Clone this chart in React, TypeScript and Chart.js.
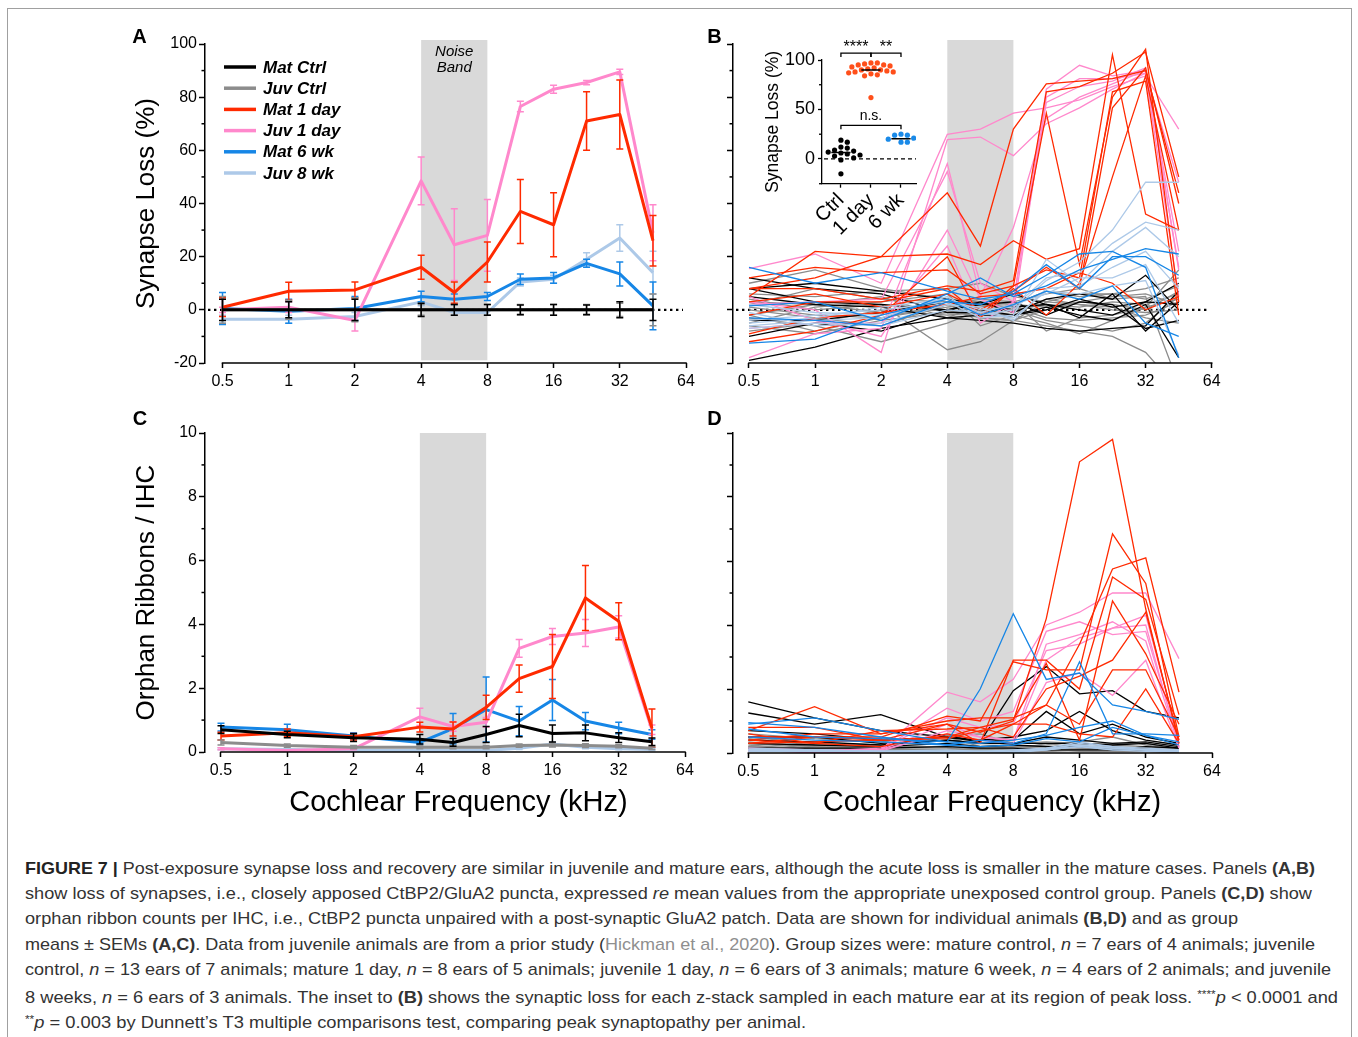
import React, { useEffect, useLayoutEffect, useRef } from 'react';
import { Chart, registerables } from 'chart.js';

Chart.register(...registerables);

const FONT = '"Liberation Sans", Arial, Helvetica, sans-serif';
Chart.defaults.font.family = FONT;
Chart.defaults.color = '#000';

// ---------------- shared axis data ----------------
const FREQS = [0.5, 1, 2, 4, 5.66, 8, 11.3, 16, 22.6, 32, 45.3];
const X_TICKS = [0.5, 1, 2, 4, 8, 16, 32, 64];
const NOISE_BAND = [4, 8];
const NOISE_LABEL = ['Noise', 'Band'];
const GROUPS = ['Mat Ctrl', 'Juv Ctrl', 'Mat 1 day', 'Juv 1 day', 'Mat 6 wk', 'Juv 8 wk'];
const COLORS = ['#000000', '#8c8c8c', '#ff2a00', '#ff88cc', '#1686e6', '#adc9e8'];

// ---------------- Panel A: synapse loss (%) means ± SEM ----------------
const LOSS_TICKS = [-20, 0, 20, 40, 60, 80, 100];
const LOSS_MINOR = [-10, 10, 30, 50, 70, 90];
const A_MAT_CTRL = [0, 0, 0, 0, 0, 0, 0, 0, 0, 0, 0];
const A_MAT_CTRL_SEM = [4, 3, 4, 2.5, 2, 2, 1.8, 2, 1.8, 3, 4];
const A_JUV_CTRL = [0, 0, 0, 0, 0, 0, 0, 0, 0, 0, 0];
const A_JUV_CTRL_SEM = [5, 3.5, 4.5, 2, 2, 2, 2, 2, 2, 2.5, 6];
const A_MAT_1D = [1, 7, 7.5, 16, 6.5, 18, 37, 32, 71, 73.5, 26];
const A_MAT_1D_SEM = [3.5, 3.4, 3, 4.5, 4, 7.5, 12, 12, 11, 13, 9.5];
const A_JUV_1D = [0, 1, -4, 48.5, 24.5, 28, 76.5, 83, 85.5, 89.5, 29];
const A_JUV_1D_SEM = [1, 2, 4, 9, 13.5, 13.5, 2, 1.5, 0.8, 1, 10.5];
const A_MAT_6W = [0.5, -0.5, 0.5, 5, 4, 5, 11.5, 12, 17.5, 13.5, 1.5];
const A_MAT_6W_SEM = [6, 4.5, 4.5, 2, 2, 1.5, 2, 2, 1.5, 4.5, 9];
const A_JUV_8W = [-3.5, -3.5, -2.5, 3, -1, -1, 10.5, 11.5, 19, 27, 14];
const A_JUV_8W_SEM = [1.5, 1.5, 1.5, 1.5, 1, 1, 1.5, 1.5, 2.5, 5, 8];

// ---------------- Panel B: synapse loss (%) per ear ----------------
const B_MAT_CTRL = [
  [12, 8, 6, -1, -1, 1, 2, -3, 6, -8, 3],
  [8, 10, 7, 4, 2, 3, -2, 3, 2, -7, -4],
  [5, 2, 1, -3, -4, -5, -7, -8, -7, -6, 7],
  [8, 3, 2, 0, 3, -1, 4, 6, 4, 13, 0],
  [-4, -4, -1, 3, 0, -2, 0, 4, 1, 3, 2],
  [-10, -5, -8, 0, 2, 6, 2, 0, -2, 3, 10],
  [-19, -14, -7, -3, -2, -2, 1, -2, -4, 2, -18],
];
const B_JUV_CTRL = [
  [10, 15, 8, 4, 3, 2, 7, 5, 6, 8, 12],
  [6, 5, 7, 8, 10, 5, 3, 6, 6, 4, 9],
  [4, 0, 2, -15, -12, -4, -6, -8, -10, -16, -30],
  [2, 8, 4, 3, 2, 0, 2, 1, 3, 2, 6],
  [0, -3, -6, 2, 4, 3, -8, -3, -2, 1, 4],
  [-2, 2, -1, 0, -3, -4, 0, 3, 5, 6, 2],
  [-3, -6, -12, -5, 0, -2, -5, -9, -4, 1, 15],
  [-5, 1, 3, 6, -6, -2, 4, 2, 1, -3, -5],
  [-6, -9, -4, -1, 1, 3, 6, 8, 4, 5, -28],
  [1, -2, -3, 1, 3, 0, -4, -6, -8, -5, 5],
  [-8, -5, 0, -2, -1, 2, 1, 3, 2, 0, 7],
  [3, 2, 5, -3, 2, 1, -3, -4, -3, -2, 3],
  [-2, -8, -3, 2, -3, -4, 3, 2, 0, -1, 0],
];
const B_MAT_1D = [
  [5, 22, 20, 21, 17, 26, 19, 23, 96, 36, 30],
  [8, 12, 20, 44, 24, 68, 85, 86, 87, 90, 44],
  [12, 16, 14, 15, 6, 9, 74, 17, 80, 98, 3],
  [8, 8, 4, 9, 7, 11, 82, 84, 89, 97, 50],
  [3, 6, 1, 6, 0, 7, 16, 8, 76, 91, 40],
  [-2, 3, 3, 8, -2, 9, 15, 12, 82, 86, -2],
  [-9, -3, -1, 2, 5, 6, 8, 14, 10, 0, 5],
  [-12, -8, -2, 20, -3, 8, -2, 10, 50, 88, 30],
];
const B_JUV_1D = [
  [15.5, 21, 10, 66, 68, 74, 76, 79, 84, 88, 68],
  [3, 0, -16, 64, 65, 58, 70, 76, 83, 89, 48],
  [-18, -9, -7, 55, 5, 31, 72, 80, 85, 90, 22],
  [2, 3, 4, 52, 10, 3, 78, 84, 86, 91, 15],
  [5, -4, -10, 30, 4, -1, 80, 87, 87, 89, 5],
  [-7, -5, -5, 24, -5, 3, 83, 92, 88, 90, 16],
];
const B_MAT_6W = [
  [16, 10, 14, 7, 4, 6, 13, 21, 22, 16, -18],
  [1.5, 3, -4, 6, 12, 5, 9, 15, 19, 23, 21],
  [-3, -4, -6, 3, 2, 7, 17, 8, 20, 20, 13],
  [-12.5, -11, -2, 4, -2, 2, 7, 4, 9, -5, -10],
];
const B_JUV_8W = [
  [-6, -4, -3, 5, -2, 0, 11, 18, 30, 48, 48],
  [2, -1, -2, 4, 0, 1, 12, 14, 25, 33, 30],
  [-4, -2, 0, 3, -3, -2, 19, 10, 22, 31, 20],
  [-1, -6, -5, 2, 1, -4, 8, 9, 16, 22, 8],
  [-5, -3, 1, 4, -1, 2, 6, 12, 12, 17, -5],
  [-7, -5, -6, 0, -1, -3, 7, 6, 9, 11, -17],
];

// ---------------- Inset: peak synapse loss per z-stack ----------------
const INSET_CATS = ['Ctrl', '1 day', '6 wk'];
const INSET_CTRL = [19, 17, 12, 11, 9, 8, 7, 6, 5, 4, 3, 1, -1, -15];
const INSET_1DAY = [97, 97, 96, 95, 95, 94, 93, 92, 91, 90, 90, 89, 88, 88, 87, 86, 85, 84, 62];
const INSET_6WK = [25, 24, 24, 21, 20, 20, 17, 17];
const INSET_COLORS = ['#000000', '#ff4f1a', '#1a8ae8'];
const INSET_Y_TICKS = [0, 50, 100];
const INSET_Y_MINOR = [-25, 25, 75];
const INSET_BRACKETS = [
  { from: 0, to: 1, y: 107, text: '****' },
  { from: 1, to: 2, y: 107, text: '**' },
  { from: 0, to: 2, y: 34, text: 'n.s.' },
];

// ---------------- Panel C: orphan ribbons / IHC means ± SEM ----------------
const ORPH_TICKS = [0, 2, 4, 6, 8, 10];
const ORPH_MINOR = [1, 3, 5, 7, 9];
const C_MAT_CTRL = [0.7, 0.55, 0.45, 0.4, 0.3, 0.55, 0.83, 0.58, 0.6, 0.45, 0.32];
const C_MAT_CTRL_SEM = [0.12, 0.1, 0.12, 0.15, 0.12, 0.25, 0.35, 0.27, 0.25, 0.15, 0.12];
const C_JUV_CTRL = [0.3, 0.2, 0.15, 0.15, 0.15, 0.15, 0.2, 0.22, 0.2, 0.18, 0.12];
const C_JUV_CTRL_SEM = [0.08, 0.05, 0.05, 0.05, 0.05, 0.05, 0.05, 0.06, 0.06, 0.05, 0.04];
const C_MAT_1D = [0.5, 0.6, 0.48, 0.78, 0.72, 1.4, 2.3, 2.68, 4.83, 4.1, 0.75];
const C_MAT_1D_SEM = [0.12, 0.12, 0.1, 0.15, 0.22, 0.38, 0.43, 1.0, 1.02, 0.58, 0.6];
const C_JUV_1D = [0.1, 0.05, 0.1, 1.1, 0.8, 0.93, 3.25, 3.62, 3.73, 3.92, 0.7];
const C_JUV_1D_SEM = [0.03, 0.02, 0.03, 0.27, 0.15, 0.15, 0.28, 0.25, 0.42, 0.35, 0.15];
const C_MAT_6W = [0.78, 0.7, 0.5, 0.3, 0.73, 1.33, 0.97, 1.63, 0.97, 0.75, 0.55];
const C_MAT_6W_SEM = [0.12, 0.17, 0.1, 0.05, 0.48, 1.02, 0.46, 0.64, 0.27, 0.18, 0.15];
const C_JUV_8W = [0.1, 0.08, 0.05, 0.05, 0.05, 0.05, 0.12, 0.25, 0.15, 0.1, 0.08];
const C_JUV_8W_SEM = [0.03, 0.03, 0.02, 0.02, 0.02, 0.02, 0.04, 0.06, 0.05, 0.03, 0.03];

// ---------------- Panel D: orphan ribbons / IHC per ear ----------------
const D_MAT_CTRL = [
  [1.6, 1.1, 0.7, 0.5, 0.35, 1.95, 2.7, 1.85, 1.95, 1.3, 1.1],
  [1.25, 0.9, 1.2, 0.5, 0.4, 0.4, 1.3, 0.6, 0.9, 0.5, 0.3],
  [0.7, 0.6, 0.4, 0.5, 0.4, 0.5, 0.7, 1.3, 0.7, 0.4, 0.25],
  [0.5, 0.5, 0.3, 0.4, 0.3, 0.3, 0.5, 0.4, 0.3, 0.35, 0.2],
  [0.4, 0.35, 0.25, 0.4, 0.3, 0.3, 0.3, 0.3, 0.25, 0.3, 0.15],
  [0.3, 0.25, 0.2, 0.3, 0.2, 0.25, 0.2, 0.2, 0.1, 0.2, 0.15],
  [0.15, 0.15, 0.15, 0.2, 0.15, 0.15, 0.1, 0.1, 0.1, 0.1, 0.1],
];
const D_JUV_CTRL = [
  [0.6, 0.45, 0.35, 0.55, 0.6, 0.3, 0.35, 0.3, 0.25, 0.2, 0.15],
  [0.5, 0.3, 0.25, 0.5, 0.2, 0.2, 0.25, 0.35, 0.5, 0.25, 0.1],
  [0.45, 0.25, 0.2, 0.2, 0.15, 0.15, 0.2, 0.25, 0.3, 0.3, 0.1],
  [0.35, 0.2, 0.15, 0.15, 0.1, 0.2, 0.2, 0.2, 0.15, 0.2, 0.15],
  [0.3, 0.15, 0.1, 0.1, 0.15, 0.1, 0.15, 0.3, 0.2, 0.15, 0.1],
  [0.3, 0.2, 0.1, 0.1, 0.1, 0.15, 0.1, 0.2, 0.1, 0.1, 0.05],
  [0.25, 0.1, 0.1, 0.1, 0.05, 0.1, 0.15, 0.15, 0.2, 0.1, 0.1],
  [0.2, 0.15, 0.05, 0.05, 0.1, 0.05, 0.1, 0.1, 0.1, 0.15, 0.05],
  [0.2, 0.1, 0.1, 0.1, 0.05, 0.1, 0.3, 0.15, 0.1, 0.1, 0.1],
  [0.15, 0.1, 0.05, 0.05, 0.1, 0.05, 0.05, 0.1, 0.05, 0.1, 0.05],
  [0.1, 0.05, 0.1, 0.05, 0.05, 0.1, 0.1, 0.2, 0.1, 0.05, 0.05],
  [0.1, 0.05, 0.05, 0.1, 0.05, 0.05, 0.05, 0.1, 0.15, 0.1, 0.05],
  [0.05, 0.05, 0.05, 0.05, 0.05, 0.05, 0.1, 0.05, 0.05, 0.05, 0.0],
];
const D_MAT_1D = [
  [0.7, 1.45, 0.6, 0.9, 0.65, 1.0, 4.2, 9.1, 9.8, 4.5, 0.3],
  [0.5, 0.5, 0.5, 1.15, 1.0, 2.85, 2.6, 2.6, 6.85, 5.3, 0.5],
  [0.4, 0.6, 0.6, 1.0, 1.1, 1.1, 1.5, 3.4, 5.75, 6.1, 1.9],
  [0.8, 0.8, 0.4, 0.9, 0.3, 2.9, 2.9, 2.0, 5.5, 4.8, 1.2],
  [0.6, 0.3, 0.7, 0.75, 0.8, 1.05, 2.8, 0.4, 4.75, 3.1, 0.9],
  [0.3, 0.5, 0.4, 0.5, 0.8, 0.5, 2.0, 2.4, 2.9, 4.4, 0.4],
  [0.4, 0.3, 0.2, 0.6, 0.4, 0.9, 1.5, 0.9, 2.6, 2.6, 0.5],
  [0.3, 0.35, 0.4, 0.45, 0.7, 0.9, 0.9, 0.6, 0.5, 2.0, 0.3],
];
const D_JUV_1D = [
  [0.1, 0.05, 0.1, 1.9, 1.6, 2.3, 4.0, 4.4, 5.0, 5.0, 2.95],
  [0.15, 0.1, 0.1, 1.4, 1.0, 1.3, 3.8, 4.1, 3.7, 3.8, 0.3],
  [0.05, 0.05, 0.15, 1.1, 0.8, 0.9, 3.2, 3.4, 3.9, 4.3, 0.4],
  [0.1, 0.05, 0.1, 0.9, 0.5, 0.4, 3.4, 3.7, 4.1, 3.5, 0.2],
  [0.1, 0.0, 0.05, 0.7, 0.5, 0.4, 2.9, 3.6, 3.9, 4.0, 0.2],
  [0.1, 0.05, 0.1, 0.6, 0.4, 0.3, 2.2, 2.5, 1.8, 2.9, 0.15],
];
const D_MAT_6W = [
  [0.9, 1.1, 0.7, 0.35, 2.0, 4.35, 2.3, 2.5, 1.5, 1.3, 1.05],
  [0.95, 0.8, 0.5, 0.25, 0.4, 0.3, 0.6, 2.85, 0.6, 0.6, 0.55],
  [0.75, 0.5, 0.45, 0.35, 0.3, 0.4, 0.55, 0.8, 1.0, 0.55, 0.35],
  [0.5, 0.4, 0.35, 0.25, 0.2, 0.25, 0.45, 0.35, 0.8, 0.55, 0.25],
];
const D_JUV_8W = [
  [0.15, 0.1, 0.05, 0.05, 0.05, 0.05, 0.15, 0.35, 0.2, 0.15, 0.1],
  [0.1, 0.1, 0.05, 0.1, 0.05, 0.05, 0.1, 0.3, 0.2, 0.1, 0.1],
  [0.1, 0.05, 0.05, 0.05, 0.05, 0.1, 0.15, 0.25, 0.15, 0.1, 0.1],
  [0.1, 0.1, 0.05, 0.05, 0.05, 0.05, 0.1, 0.2, 0.1, 0.1, 0.05],
  [0.05, 0.05, 0.05, 0.0, 0.05, 0.0, 0.1, 0.2, 0.1, 0.05, 0.05],
  [0.1, 0.08, 0.05, 0.05, 0.05, 0.05, 0.12, 0.2, 0.15, 0.1, 0.08],
];

// ---------------- helpers ----------------
const pts = (vals: number[]) => vals.map((v, i) => ({ x: FREQS[i], y: v }));

function meanDatasets(means: number[][], sems: number[][]) {
  return GROUPS.map((label, g) => ({
    label,
    data: pts(means[g]),
    sem: sems[g],
    borderColor: COLORS[g],
    backgroundColor: COLORS[g],
    borderWidth: 3,
    pointRadius: 0,
    borderJoinStyle: 'round',
  }));
}

// draw order, bottom -> top: gray, black, pink, red, light blue, blue
const INDIV_ORDER = [5, 6, 3, 4, 1, 2];
function indivDatasets(groups: number[][][]) {
  const out: any[] = [];
  groups.forEach((lines, g) =>
    lines.forEach((vals) =>
      out.push({
        label: GROUPS[g],
        data: pts(vals),
        borderColor: COLORS[g],
        backgroundColor: COLORS[g],
        borderWidth: 1.3,
        pointRadius: 0,
        order: INDIV_ORDER[g],
      })
    )
  );
  return out;
}

const decorPlugin: any = {
  id: 'decor',
  beforeDatasetsDraw(chart: any, _a: any, o: any) {
    const { ctx, chartArea: ca } = chart;
    const x = chart.scales.x;
    const y = chart.scales.y;
    ctx.save();
    if (o.band) {
      const x0 = x.getPixelForValue(o.band[0]);
      const x1 = x.getPixelForValue(o.band[1]);
      const yT = y.getPixelForValue(o.bandY[1]);
      const yB = y.getPixelForValue(o.bandY[0]);
      ctx.fillStyle = '#d9d9d9';
      ctx.fillRect(x0, yT, x1 - x0, yB - yT);
      if (o.bandText) {
        ctx.fillStyle = '#000';
        ctx.font = `italic 15px ${FONT}`;
        ctx.textAlign = 'center';
        ctx.textBaseline = 'middle';
        o.bandText.forEach((t: string, i: number) => ctx.fillText(t, (x0 + x1) / 2, ca.top + 8 + i * 16));
      }
    }
    if (o.zero) {
      const yy = y.getPixelForValue(0);
      ctx.strokeStyle = '#000';
      ctx.lineWidth = 2.4;
      ctx.setLineDash([2.4, 3.6]);
      ctx.beginPath();
      ctx.moveTo(ca.left + 3, yy);
      ctx.lineTo(ca.right - 3, yy);
      ctx.stroke();
    }
    ctx.restore();
  },
  afterDatasetDraw(chart: any, args: any) {
    const ds = chart.data.datasets[args.index];
    if (!ds.sem) return;
    const { ctx } = chart;
    const x = chart.scales.x;
    const y = chart.scales.y;
    ctx.save();
    ctx.strokeStyle = ds.borderColor;
    ctx.lineWidth = 1.5;
    ds.data.forEach((p: any, i: number) => {
      const px = x.getPixelForValue(p.x);
      const yT = y.getPixelForValue(p.y + ds.sem[i]);
      const yB = y.getPixelForValue(p.y - ds.sem[i]);
      ctx.beginPath();
      ctx.moveTo(px, yT);
      ctx.lineTo(px, yB);
      ctx.moveTo(px - 3.5, yT);
      ctx.lineTo(px + 3.5, yT);
      ctx.moveTo(px - 3.5, yB);
      ctx.lineTo(px + 3.5, yB);
      ctx.stroke();
    });
    ctx.restore();
  },
  afterDraw(chart: any, _a: any, o: any) {
    const { ctx, chartArea: ca } = chart;
    const x = chart.scales.x;
    const y = chart.scales.y;
    ctx.save();
    ctx.strokeStyle = '#000';
    ctx.lineWidth = 1.5;
    if (o.xLine) {
      ctx.beginPath();
      ctx.moveTo(x.getPixelForValue(o.xLine[0]) - 0.75, ca.bottom);
      ctx.lineTo(x.getPixelForValue(o.xLine[1]) + 0.75, ca.bottom);
      ctx.stroke();
    }
    if (o.yMinor) {
      o.yMinor.forEach((v: number) => {
        const yy = y.getPixelForValue(v);
        ctx.beginPath();
        ctx.moveTo(ca.left, yy);
        ctx.lineTo(ca.left - 3.5, yy);
        ctx.stroke();
      });
    }
    if (o.legend) {
      ctx.font = `italic bold 17px ${FONT}`;
      ctx.textBaseline = 'middle';
      ctx.textAlign = 'left';
      chart.data.datasets.forEach((ds: any, i: number) => {
        const yy = ca.top + 23 + i * 21.2;
        ctx.strokeStyle = ds.borderColor;
        ctx.lineWidth = 3.5;
        ctx.beginPath();
        ctx.moveTo(ca.left + 19, yy);
        ctx.lineTo(ca.left + 51, yy);
        ctx.stroke();
        ctx.fillStyle = '#000';
        ctx.fillText(ds.label, ca.left + 58, yy + 1);
      });
    }
    ctx.restore();
  },
};

function lineConfig(p: any) {
  return {
    type: 'line',
    data: { datasets: p.datasets },
    plugins: [decorPlugin],
    options: {
      responsive: false,
      animation: false,
      devicePixelRatio: 1,
      parsing: true,
      layout: { padding: p.pad },
      plugins: {
        legend: { display: false },
        tooltip: { enabled: false },
        decor: p.decor,
      },
      scales: {
        x: {
          type: 'logarithmic',
          position: 'bottom',
          min: p.xMin,
          max: 64,
          afterFit: (s: any) => {
            s.height = p.xHeight;
          },
          afterBuildTicks: (s: any) => {
            s.ticks = X_TICKS.map((v) => ({ value: v }));
          },
          grid: { drawOnChartArea: false, drawTicks: true, tickLength: 5, tickWidth: 1.5, tickColor: '#000' },
          border: { display: false },
          ticks: {
            color: '#000',
            font: { family: FONT, size: 16 },
            padding: 4,
            autoSkip: false,
            maxRotation: 0,
            minRotation: 0,
            callback: (v: any) => String(v),
          },
        },
        y: {
          type: 'linear',
          position: 'left',
          min: p.yMin,
          max: p.yMax,
          afterFit: (s: any) => {
            s.width = p.yWidth;
          },
          afterBuildTicks: (s: any) => {
            s.ticks = p.yTicks.map((v: number) => ({ value: v }));
          },
          grid: { drawOnChartArea: false, drawTicks: true, tickLength: 6, tickWidth: 1.5, tickColor: '#000' },
          border: { display: true, color: '#000', width: 1.5 },
          ticks: { display: p.yLabels, color: '#000', font: { family: FONT, size: 16 }, padding: 2 },
          title: p.yTitle
            ? { display: true, text: p.yTitle, color: '#000', font: { family: FONT, size: 26 }, padding: 0 }
            : { display: false },
        },
      },
    },
  };
}

function median(a: number[]) {
  const s = [...a].sort((p, q) => p - q);
  const m = Math.floor(s.length / 2);
  return s.length % 2 ? s[m] : (s[m - 1] + s[m]) / 2;
}

function swarmOffsets(values: number[], pxPerY: number, pxPerX: number, diam: number) {
  const idx = values.map((_, i) => i).sort((a, b) => values[b] - values[a]);
  const placed: { x: number; y: number }[] = [];
  const offs = new Array(values.length).fill(0);
  for (const i of idx) {
    const yy = values[i] * pxPerY;
    let chosen = 0;
    for (let k = 0; k < 30; k++) {
      const cand = k === 0 ? 0 : (k % 2 ? 1 : -1) * Math.ceil(k / 2) * diam * 0.6;
      if (placed.every((q) => Math.hypot(q.x - cand, q.y - yy) >= diam)) {
        chosen = cand;
        break;
      }
    }
    placed.push({ x: chosen, y: yy });
    offs[i] = chosen / pxPerX;
  }
  return offs;
}

const insetPlugin: any = {
  id: 'insetDecor',
  beforeDatasetsDraw(chart: any) {
    const { ctx, chartArea: ca } = chart;
    const yy = chart.scales.y.getPixelForValue(0);
    ctx.save();
    ctx.strokeStyle = '#000';
    ctx.lineWidth = 1.2;
    ctx.setLineDash([4, 3]);
    ctx.beginPath();
    ctx.moveTo(ca.left + 2, yy);
    ctx.lineTo(ca.right, yy);
    ctx.stroke();
    ctx.restore();
  },
  afterDraw(chart: any) {
    const { ctx, chartArea: ca } = chart;
    const x = chart.scales.x;
    const y = chart.scales.y;
    ctx.save();
    ctx.strokeStyle = '#000';
    ctx.lineWidth = 1.3;
    INSET_Y_MINOR.forEach((v) => {
      const yy = y.getPixelForValue(v);
      ctx.beginPath();
      ctx.moveTo(ca.left, yy);
      ctx.lineTo(ca.left - 3, yy);
      ctx.stroke();
    });
    ctx.fillStyle = '#000';
    ctx.textAlign = 'center';
    ctx.textBaseline = 'middle';
    INSET_BRACKETS.forEach((b) => {
      const x0 = x.getPixelForValue(b.from);
      const x1 = x.getPixelForValue(b.to);
      const yb = y.getPixelForValue(b.y);
      const yd = y.getPixelForValue(b.y - 4);
      ctx.beginPath();
      ctx.moveTo(x0, yd);
      ctx.lineTo(x0, yb);
      ctx.lineTo(x1, yb);
      ctx.lineTo(x1, yd);
      ctx.stroke();
      const isStars = b.text.startsWith('*');
      ctx.font = isStars ? `16px ${FONT}` : `14px ${FONT}`;
      ctx.fillText(b.text, (x0 + x1) / 2, yb - (isStars ? 5 : 9));
    });
    ctx.restore();
  },
};

function insetConfig() {
  const groups = [INSET_CTRL, INSET_1DAY, INSET_6WK];
  const datasets: any[] = [];
  groups.forEach((vals, g) => {
    const med = median(vals);
    datasets.push({
      data: [
        { x: g - 0.32, y: med },
        { x: g + 0.32, y: med },
      ],
      showLine: true,
      borderColor: '#000',
      borderWidth: 1.5,
      pointRadius: 0,
      order: 0,
    });
  });
  groups.forEach((vals, g) => {
    const offs = swarmOffsets(vals, 0.99, 30, 5.3);
    datasets.push({
      label: INSET_CATS[g],
      data: vals.map((v, i) => ({ x: g + offs[i], y: v })),
      backgroundColor: INSET_COLORS[g],
      borderWidth: 0,
      pointRadius: 2.6,
      order: 1,
    });
  });
  return {
    type: 'scatter',
    data: { datasets },
    plugins: [insetPlugin],
    options: {
      responsive: false,
      animation: false,
      devicePixelRatio: 1,
      layout: { padding: { left: 12.5, top: 30, right: 24, bottom: 0 } },
      plugins: { legend: { display: false }, tooltip: { enabled: false } },
      scales: {
        x: {
          type: 'linear',
          min: -0.63,
          max: 2.5,
          afterFit: (s: any) => {
            s.height = 61.3;
          },
          afterBuildTicks: (s: any) => {
            s.ticks = INSET_CATS.map((_, i) => ({ value: i }));
          },
          grid: { drawOnChartArea: false, tickLength: 4, tickWidth: 1.3, tickColor: '#000' },
          border: { display: true, color: '#000', width: 1.3 },
          ticks: {
            color: '#000',
            font: { family: FONT, size: 20 },
            padding: 1,
            autoSkip: false,
            minRotation: 45,
            maxRotation: 45,
            callback: (v: any) => INSET_CATS[Math.round(v)] ?? '',
          },
        },
        y: {
          type: 'linear',
          min: -25,
          max: 100,
          afterFit: (s: any) => {
            s.width = 59.5;
          },
          afterBuildTicks: (s: any) => {
            s.ticks = INSET_Y_TICKS.map((v) => ({ value: v }));
          },
          grid: { drawOnChartArea: false, tickLength: 4, tickWidth: 1.3, tickColor: '#000' },
          border: { display: true, color: '#000', width: 1.3 },
          ticks: { color: '#000', font: { family: FONT, size: 18 }, padding: 3 },
          title: { display: true, text: 'Synapse Loss (%)', color: '#000', font: { family: FONT, size: 17.5 }, padding: 0 },
        },
      },
    },
  };
}

// ---------------- chart configs ----------------
const configA = () =>
  lineConfig({
    datasets: meanDatasets(
      [A_MAT_CTRL, A_JUV_CTRL, A_MAT_1D, A_JUV_1D, A_MAT_6W, A_JUV_8W],
      [A_MAT_CTRL_SEM, A_JUV_CTRL_SEM, A_MAT_1D_SEM, A_JUV_1D_SEM, A_MAT_6W_SEM, A_JUV_8W_SEM]
    ),
    xMin: 0.4163,
    yMin: -20,
    yMax: 100,
    yTicks: LOSS_TICKS,
    yWidth: 73.6,
    xHeight: 37,
    pad: { left: 31.4, top: 24, right: 24, bottom: 0 },
    yTitle: 'Synapse Loss (%)',
    yLabels: true,
    decor: { band: NOISE_BAND, bandY: [-19, 101.5], bandText: NOISE_LABEL, zero: true, xLine: [0.5, 64], yMinor: LOSS_MINOR, legend: true },
  });

const configB = () =>
  lineConfig({
    datasets: indivDatasets([B_MAT_CTRL, B_JUV_CTRL, B_MAT_1D, B_JUV_1D, B_MAT_6W, B_JUV_8W]),
    xMin: 0.4228,
    yMin: -20,
    yMax: 100,
    yTicks: LOSS_TICKS,
    yWidth: 20,
    xHeight: 37,
    pad: { left: 13, top: 24, right: 28.3, bottom: 0 },
    yLabels: false,
    decor: { band: NOISE_BAND, bandY: [-19, 101.5], zero: true, xLine: [0.5, 64], yMinor: LOSS_MINOR },
  });

const configC = () =>
  lineConfig({
    datasets: meanDatasets(
      [C_MAT_CTRL, C_JUV_CTRL, C_MAT_1D, C_JUV_1D, C_MAT_6W, C_JUV_8W],
      [C_MAT_CTRL_SEM, C_JUV_CTRL_SEM, C_MAT_1D_SEM, C_JUV_1D_SEM, C_MAT_6W_SEM, C_JUV_8W_SEM]
    ),
    xMin: 0.423,
    yMin: 0,
    yMax: 10,
    yTicks: ORPH_TICKS,
    yWidth: 73.6,
    xHeight: 68,
    pad: { left: 31.4, top: 33, right: 25, bottom: 0 },
    yTitle: 'Orphan Ribbons / IHC',
    yLabels: true,
    decor: { band: NOISE_BAND, bandY: [0, 10], xLine: [0.5, 64], yMinor: ORPH_MINOR },
  });

const configD = () =>
  lineConfig({
    datasets: indivDatasets([D_MAT_CTRL, D_JUV_CTRL, D_MAT_1D, D_JUV_1D, D_MAT_6W, D_JUV_8W]),
    xMin: 0.426,
    yMin: 0,
    yMax: 10,
    yTicks: ORPH_TICKS,
    yWidth: 20,
    xHeight: 67,
    pad: { left: 13, top: 33, right: 28, bottom: 0 },
    yLabels: false,
    decor: { band: NOISE_BAND, bandY: [0, 10], xLine: [0.5, 64], yMinor: ORPH_MINOR },
  });

function ChartCanvas({ x, y, w, h, make }: any) {
  const ref = useRef<HTMLCanvasElement | null>(null);
  useEffect(() => {
    const chart = new Chart(ref.current as HTMLCanvasElement, make());
    return () => chart.destroy();
  }, []);
  return (
    <canvas
      ref={ref}
      width={w}
      height={h}
      style={{ position: 'absolute', left: x, top: y, width: w, height: h }}
    />
  );
}

function Label({ text, x, y, size, weight = 'normal' }: any) {
  return (
    <div
      style={{
        position: 'absolute',
        left: x,
        top: y,
        transform: 'translate(-50%, -50%)',
        font: `${weight} ${size}px ${FONT}`,
        lineHeight: 1,
        whiteSpace: 'nowrap',
        color: '#000',
      }}
    >
      {text}
    </div>
  );
}

const CAPTION_WIDTHS = [1290, 1287, 1213, 1290, 1306, 1313, 781];
const GRAY_LINK = { color: '#8f8f8f' };
const SUP = { fontSize: '11px', verticalAlign: '5px' };

function Caption() {
  const refs = useRef<(HTMLSpanElement | null)[]>([]);
  useLayoutEffect(() => {
    const fit = () =>
      refs.current.forEach((el, i) => {
        if (!el) return;
        el.style.transform = 'none';
        const w = el.getBoundingClientRect().width;
        if (w > 0) el.style.transform = `scaleX(${CAPTION_WIDTHS[i] / w})`;
      });
    fit();
    if ((document as any).fonts?.ready) (document as any).fonts.ready.then(fit);
  }, []);
  const lines = [
    <>
      <b style={{ color: '#222' }}>FIGURE 7 |</b> Post-exposure synapse loss and recovery are similar in juvenile and mature ears, although the acute loss is smaller in the mature cases. Panels <b>(A,B)</b>
    </>,
    <>
      show loss of synapses, i.e., closely apposed CtBP2/GluA2 puncta, expressed <i>re</i> mean values from the appropriate unexposed control group. Panels <b>(C,D)</b> show
    </>,
    <>
      orphan ribbon counts per IHC, i.e., CtBP2 puncta unpaired with a post-synaptic GluA2 patch. Data are shown for individual animals <b>(B,D)</b> and as group
    </>,
    <>
      means ± SEMs <b>(A,C)</b>. Data from juvenile animals are from a prior study (<span style={GRAY_LINK}>Hickman et al., 2020</span>). Group sizes were: mature control, <i>n</i> = 7 ears of 4 animals; juvenile
    </>,
    <>
      control, <i>n</i> = 13 ears of 7 animals; mature 1 day, <i>n</i> = 8 ears of 5 animals; juvenile 1 day, <i>n</i> = 6 ears of 3 animals; mature 6 week, <i>n</i> = 4 ears of 2 animals; and juvenile
    </>,
    <>
      8 weeks, <i>n</i> = 6 ears of 3 animals. The inset to <b>(B)</b> shows the synaptic loss for each z-stack sampled in each mature ear at its region of peak loss. <span style={SUP}>****</span><i>p</i> &lt; 0.0001 and
    </>,
    <>
      <span style={SUP}>**</span><i>p</i> = 0.003 by Dunnett’s T3 multiple comparisons test, comparing peak synaptopathy per animal.
    </>,
  ];
  return (
    <div style={{ position: 'absolute', left: 25, top: 856, font: `17px ${FONT}`, color: '#333' }}>
      {lines.map((l, i) => (
        <div key={i} style={{ height: 25.2, lineHeight: '25.2px', whiteSpace: 'nowrap' }}>
          <span
            ref={(el) => {
              refs.current[i] = el;
            }}
            style={{ display: 'inline-block', transformOrigin: 'left center' }}
          >
            {l}
          </span>
        </div>
      ))}
    </div>
  );
}

export default function App() {
  return (
    <div style={{ position: 'absolute', left: 0, top: 0, width: 1358, height: 1037, overflow: 'hidden', background: '#fff' }}>
      <div
        style={{
          position: 'absolute',
          left: 7,
          top: 8,
          width: 1345,
          height: 1040,
          border: '1px solid #a0a0a0',
          boxSizing: 'border-box',
        }}
      />
      <ChartCanvas x={100} y={20} w={610} h={380} make={configA} />
      <ChartCanvas x={700} y={20} w={540} h={380} make={configB} />
      <ChartCanvas x={750} y={30} w={190} h={215} make={insetConfig} />
      <ChartCanvas x={100} y={400} w={610} h={420} make={configC} />
      <ChartCanvas x={700} y={400} w={540} h={420} make={configD} />
      <Label text="A" x={139.5} y={36} size={20} weight="bold" />
      <Label text="B" x={714.5} y={36} size={20} weight="bold" />
      <Label text="C" x={140} y={418} size={20} weight="bold" />
      <Label text="D" x={714.5} y={418} size={20} weight="bold" />
      <Label text="Cochlear Frequency (kHz)" x={458.5} y={801} size={29} />
      <Label text="Cochlear Frequency (kHz)" x={992} y={801} size={29} />
      <Caption />
    </div>
  );
}
